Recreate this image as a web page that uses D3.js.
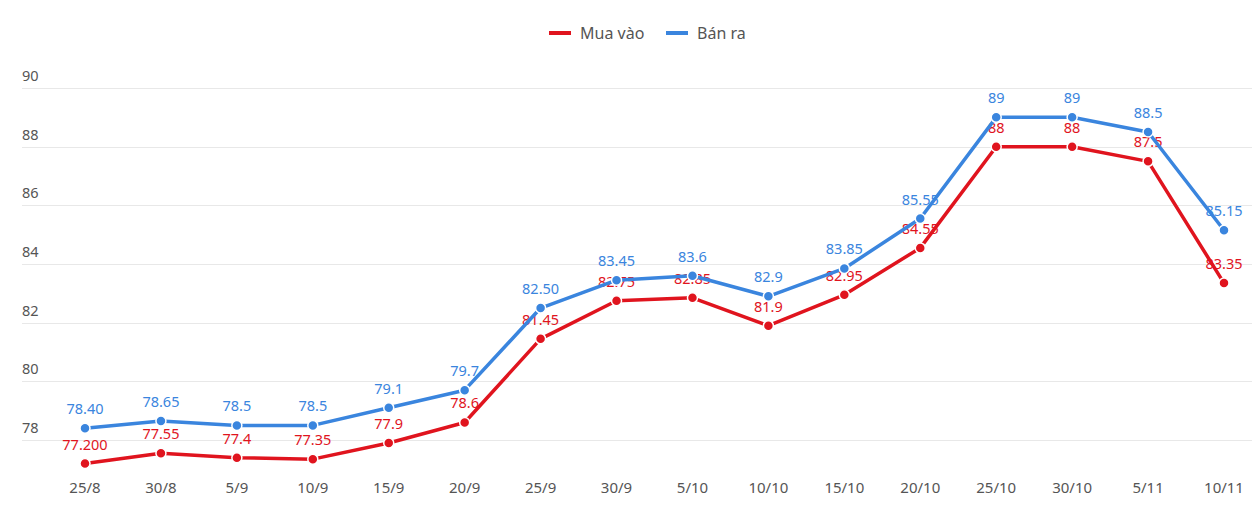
<!DOCTYPE html>
<html>
<head>
<meta charset="utf-8">
<script src="https://cdn.jsdelivr.net/npm/d3@7"></script>
<style>
  body { margin: 0; background: #fff; }
  svg { display: block; font-family: "Noto Sans", "Open Sans", sans-serif; }
</style>
</head>
<body>
<div id="chart"></div>
<script>
// data
let categories = ['25/8', '30/8', '5/9', '10/9', '15/9', '20/9', '25/9', '30/9',
  '5/10', '10/10', '15/10', '20/10', '25/10', '30/10', '5/11', '10/11'];
let muaVao = [77.2, 77.55, 77.4, 77.35, 77.9, 78.6, 81.45, 82.75, 82.85, 81.9, 82.95, 84.55, 88, 88, 87.5, 83.35];
let muaVaoLabels = ['77.200', '77.55', '77.4', '77.35', '77.9', '78.6', '81.45', '82.75', '82.85', '81.9', '82.95', '84.55', '88', '88', '87.5', '83.35'];
let banRa = [78.4, 78.65, 78.5, 78.5, 79.1, 79.7, 82.5, 83.45, 83.6, 82.9, 83.85, 85.55, 89, 89, 88.5, 85.15];
let banRaLabels = ['78.40', '78.65', '78.5', '78.5', '79.1', '79.7', '82.50', '83.45', '83.6', '82.9', '83.85', '85.55', '89', '89', '88.5', '85.15'];
let yTicks = [78, 80, 82, 84, 86, 88, 90];

let width = 1252;
let height = 525;

let series = [
  {name: 'Mua vào', values: muaVao, labels: muaVaoLabels, color: '#e0141e'},
  {name: 'Bán ra', values: banRa, labels: banRaLabels, color: '#3a85de'}
];

let svg = d3.select('#chart').append('svg')
    .attr('width', width)
    .attr('height', height);

// set the ranges
let x = d3.scalePoint().domain(categories).range([85, 1224]);
let y = d3.scaleLinear().domain([77, 90]).range([469.4, 88]);

// gridlines + y labels
let grid = svg.append('g');
grid.selectAll('line')
    .data(yTicks)
  .enter().append('line')
    .attr('x1', 22)
    .attr('x2', width)
    .attr('y1', function(d) { return Math.round(y(d)) + 0.5; })
    .attr('y2', function(d) { return Math.round(y(d)) + 0.5; })
    .style('stroke', '#e8e8e8')
    .style('stroke-width', 1);

grid.selectAll('text')
    .data(yTicks)
  .enter().append('text')
    .attr('x', 22)
    .attr('y', function(d) { return y(d) - 7; })
    .style('font-size', '14.5px')
    .style('fill', '#555')
    .text(function(d) { return d; });

// x labels
svg.append('g').selectAll('text')
    .data(categories)
  .enter().append('text')
    .attr('x', function(d) { return x(d); })
    .attr('y', 493)
    .attr('text-anchor', 'middle')
    .style('font-size', '15px')
    .style('fill', '#555')
    .text(function(d) { return d; });

// data labels go under the lines
series.forEach(function(s) {
  svg.append('g').selectAll('text')
      .data(s.values)
    .enter().append('text')
      .attr('x', function(d, i) { return x(categories[i]); })
      .attr('y', function(d) { return y(d) - 14; })
      .attr('text-anchor', 'middle')
      .style('font-size', '14.5px')
      .style('fill', s.color)
      .text(function(d, i) { return s.labels[i]; });
});

let line = d3.line()
    .x(function(d, i) { return x(categories[i]); })
    .y(function(d) { return y(d); });

series.forEach(function(s) {
  svg.append('path')
      .datum(s.values)
      .attr('d', line)
      .style('fill', 'none')
      .style('stroke', s.color)
      .style('stroke-width', 3.5)
      .style('stroke-linejoin', 'round');

  svg.append('g').selectAll('circle')
      .data(s.values)
    .enter().append('circle')
      .attr('cx', function(d, i) { return x(categories[i]); })
      .attr('cy', function(d) { return y(d); })
      .attr('r', 5)
      .style('fill', s.color)
      .style('stroke', '#fff')
      .style('stroke-width', 1.5);
});

// legend
let legend = svg.append('g').attr('transform', 'translate(549,33)');
let legendX = [0, 117];
series.forEach(function(s, i) {
  let g = legend.append('g').attr('transform', 'translate(' + legendX[i] + ',0)');
  g.append('line')
      .attr('x1', 0).attr('x2', 22)
      .attr('y1', 0).attr('y2', 0)
      .style('stroke', s.color)
      .style('stroke-width', 4);
  g.append('text')
      .attr('x', 31)
      .attr('y', 5.5)
      .style('font-size', '16px')
      .style('fill', '#555')
      .text(s.name);
});
</script>
</body>
</html>
